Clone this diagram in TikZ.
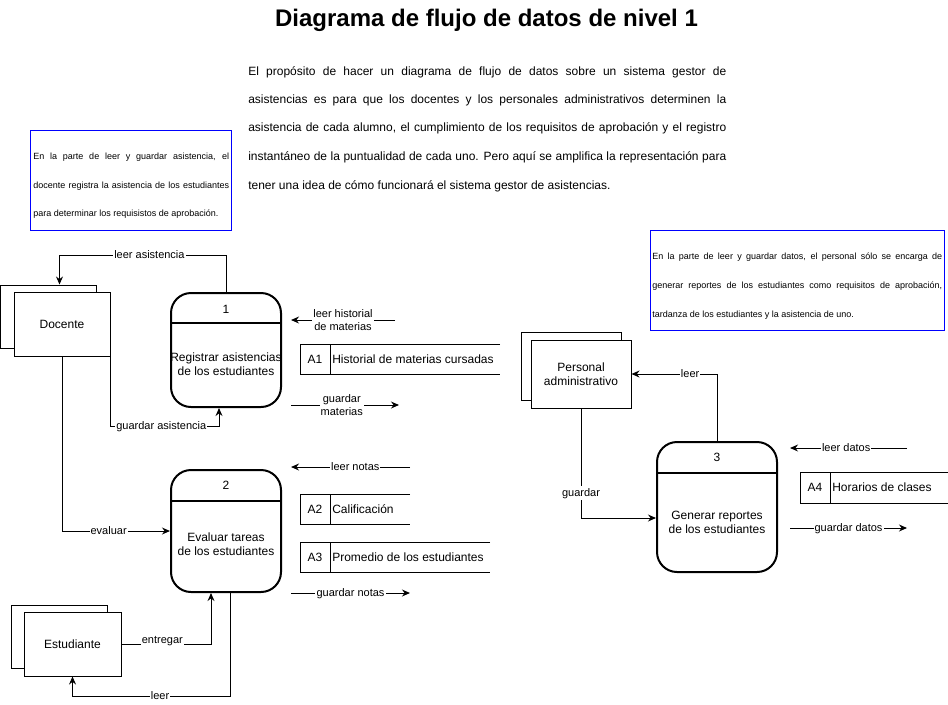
\documentclass[tikz,border=0pt]{standalone}
\usepackage{fontspec}
\setmainfont{Liberation Sans}
\usetikzlibrary{arrows.meta,calc}
\begin{document}
\begin{tikzpicture}[x=0.75pt,y=-0.75pt,
  ent/.style={draw, line width=0.75pt, fill=white, minimum width=72pt, minimum height=47.25pt, inner sep=0pt, font=\fontsize{9}{10.5}\selectfont, align=center},
  proc/.style={draw, line width=1.5pt, rounded corners=15pt, minimum width=82.5pt, inner sep=0pt},
  divline/.style={line width=1.4pt},
  flow/.style={line width=0.75pt, -{Stealth[length=6pt,width=5.2pt]}},
  lbl/.style={fill=white, inner sep=0.8pt, font=\fontsize{8.25}{9.5}\selectfont, align=center, text height=0.7em, text depth=0.2em},
  lbltwo/.style={fill=white, inner sep=0.8pt, font=\fontsize{8.25}{9.5}\selectfont, align=center},
  txt/.style={font=\fontsize{9}{10.5}\selectfont, inner sep=0pt},
  storeline/.style={line width=0.75pt},
  notebox/.style={draw=blue, line width=0.75pt},
  paraline/.style={font=\fontsize{9}{10}\selectfont, inner sep=0pt, anchor=base west},
  noteline/.style={font=\fontsize{6.75}{8}\selectfont, inner sep=0pt, anchor=base west}
]
\useasboundingbox (0,0) rectangle (948,704);
\fill[white] (0,0) rectangle (948,704);

% title
\node[font=\bfseries\fontsize{18}{20}\selectfont, inner sep=0pt] (title) at (486.5,20) {Diagrama de flujo de datos de nivel 1};

% paragraph
\node[paraline] (pa1) at (248,75) {\makebox[358.5pt][s]{El propósito de hacer un diagrama de flujo de datos sobre un sistema gestor de}};
\node[paraline] (pa2) at (248,103) {\makebox[358.5pt][s]{asistencias es para que los docentes y los personales administrativos determinen la}};
\node[paraline] (pa3) at (248,131) {\makebox[358.5pt][s]{asistencia de cada alumno, el cumplimiento de los requisitos de aprobación y el registro}};
\node[paraline] (pa4) at (248,160) {\makebox[358.5pt][s]{instantáneo de la puntualidad de cada uno. Pero aquí se amplifica la representación para}};
\node[paraline] (pa5) at (248,189) {tener una idea de cómo funcionará el sistema gestor de asistencias.};

% left note
\draw[notebox] (30,130) rectangle (231,230);
\node[noteline] (nl1) at (33,159) {\makebox[147pt][s]{En la parte de leer y guardar asistencia, el}};
\node[noteline] (nl2) at (33,188) {\makebox[147pt][s]{docente registra la asistencia de los estudiantes}};
\node[noteline] (nl3) at (33,216) {para determinar los requisistos de aprobación.};

% right note
\draw[notebox] (650,230) rectangle (944,330);
\node[noteline] (nr1) at (652,259) {\makebox[217.5pt][s]{En la parte de leer y guardar datos, el personal sólo se encarga de}};
\node[noteline] (nr2) at (652,288) {\makebox[217.5pt][s]{generar reportes de los estudiantes como requisitos de aprobación,}};
\node[noteline] (nr3) at (652,317) {tardanza de los estudiantes y la asistencia de uno.};

% external entities
\node[ent] (docb) at (48,316.5) {};
\node[ent, minimum height=48pt] (docf) at (62,324) {Docente};
\node[ent] (estb) at (59,636.5) {};
\node[ent, minimum width=72.75pt, minimum height=48pt] (estf) at (72.5,644) {Estudiante};
\node[ent, minimum width=75pt, minimum height=51pt] (perb) at (571,366) {};
\node[ent, minimum width=75pt, minimum height=51pt] (perf) at (581,374) {Personal\\administrativo};

% processes
\node[proc, minimum height=85.5pt] (p1) at (226,350) {};
\draw[divline] ($(p1.center)+(-55,-27)$) -- ($(p1.center)+(55,-27)$);
\node[txt] (p1n) at ($(p1.center)+(0,-41)$) {1};
\node[txt, align=center] (p1t) at ($(p1.center)+(0,14)$) {Registrar asistencias\\de los estudiantes};

\node[proc, minimum height=91.5pt] (p2) at (226,531) {};
\draw[divline] ($(p2.center)+(-55,-30)$) -- ($(p2.center)+(55,-30)$);
\node[txt] (p2n) at ($(p2.center)+(0,-46)$) {2};
\node[txt, align=center] (p2t) at ($(p2.center)+(0,13)$) {Evaluar tareas\\de los estudiantes};

\node[proc, minimum width=90pt, minimum height=97.5pt] (p3) at (717,507) {};
\draw[divline] ($(p3.center)+(-60,-34)$) -- ($(p3.center)+(60,-34)$);
\node[txt] (p3n) at ($(p3.center)+(0,-50)$) {3};
\node[txt, align=center] (p3t) at ($(p3.center)+(0,15)$) {Generar reportes\\de los estudiantes};

% data stores
\draw[storeline] (500,344) -- (300,344) -- (300,374) -- (500,374) (330,344) -- (330,374);
\node[txt] (a1n) at (315,359) {A1};
\node[txt, anchor=west] (a1t) at (332,359) {Historial de materias cursadas};

\draw[storeline] (410,494) -- (300,494) -- (300,524) -- (410,524) (330,494) -- (330,524);
\node[txt] (a2n) at (315,509) {A2};
\node[txt, anchor=west] (a2t) at (332,509) {Calificación};

\draw[storeline] (490,542) -- (300,542) -- (300,572) -- (490,572) (330,542) -- (330,572);
\node[txt] (a3n) at (315,557) {A3};
\node[txt, anchor=west] (a3t) at (332,557) {Promedio de los estudiantes};

\draw[storeline] (948,472) -- (800,472) -- (800,503) -- (948,503) (830,472) -- (830,503);
\node[txt] (a4n) at (815,487.5) {A4};
\node[txt, anchor=west] (a4t) at (832,487.5) {Horarios de clases};

% connectors between nodes
\draw[flow] (p1.north) -- ++(0,-37) -| node[lbl, pos=0.23] {leer asistencia} ($(docb.north west)+(60,0)$);
\draw[flow] (docf.south east) |- node[lbl, pos=0.734] {guardar asistencia} ($(p1.south)+(-7,18)$) -- ($(p1.south)+(-7,0)$);
\draw[flow] (docf.south) |- node[lbl, pos=0.716] {evaluar} (p2.west);
\draw[flow] (estf.east) -| node[lbl, pos=0.228, yshift=3pt] {entregar} ($(p2.south)+(-15,0)$);
\draw[flow] ($(p2.south)+(4,0)$) -- ++(0,103) -| node[lbl, pos=0.222] {leer} (estf.south);
\draw[flow] (p3.north) |- node[lbl, pos=0.657] {leer} (perf.east);
\draw[flow] (perf.south) |- node[lbl, pos=0.386] {guardar} ($(p3.west)+(0,11)$);

% free data flows
\coordinate (f1s) at (395,320); \coordinate (f1e) at (291,320);
\draw[flow] (f1s) -- node[lbltwo, pos=0.5] {leer historial\\de materias} (f1e);
\coordinate (f2s) at (291,405); \coordinate (f2e) at (399,405);
\draw[flow] (f2s) -- node[lbltwo, pos=0.47] {guardar\\materias} (f2e);
\coordinate (f3s) at (410,467); \coordinate (f3e) at (291,467);
\draw[flow] (f3s) -- node[lbl, pos=0.46] {leer notas} (f3e);
\coordinate (f4s) at (291,593); \coordinate (f4e) at (410,593);
\draw[flow] (f4s) -- node[lbl, pos=0.5] {guardar notas} (f4e);
\coordinate (f5s) at (907,448); \coordinate (f5e) at (790,448);
\draw[flow] (f5s) -- node[lbl, pos=0.52] {leer datos} (f5e);
\coordinate (f6s) at (790,528); \coordinate (f6e) at (907,528);
\draw[flow] (f6s) -- node[lbl, pos=0.5] {guardar datos} (f6e);
\end{tikzpicture}
\end{document}
